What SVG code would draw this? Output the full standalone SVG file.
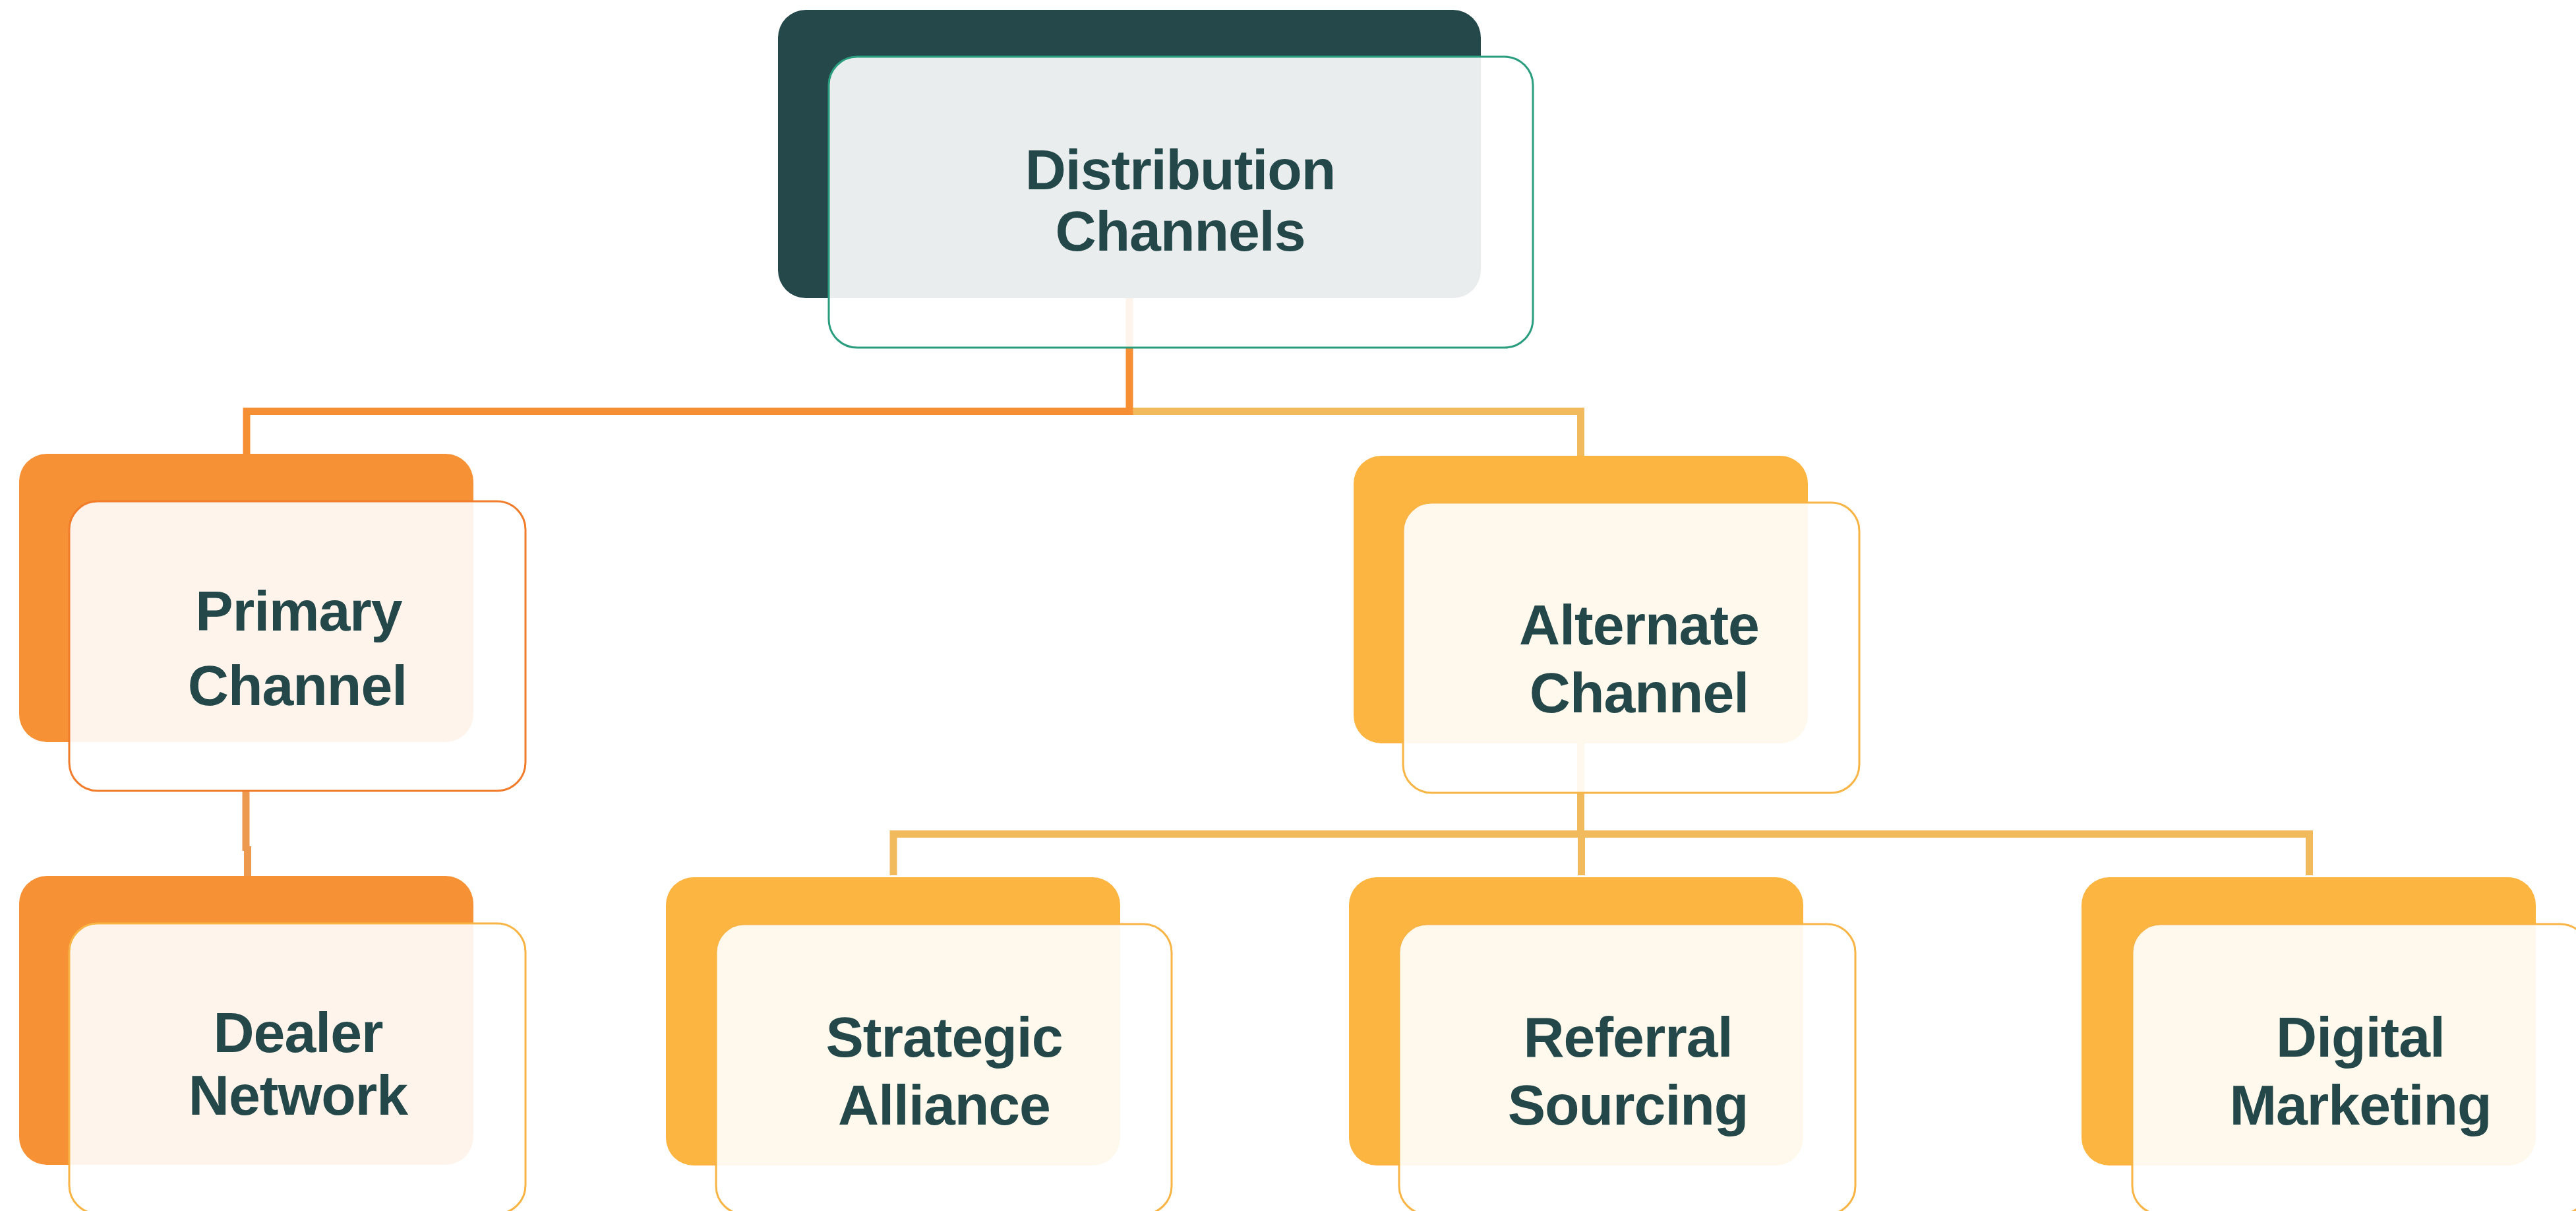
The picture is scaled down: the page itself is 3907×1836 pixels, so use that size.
<svg xmlns="http://www.w3.org/2000/svg" width="3907" height="1836" viewBox="0 0 3907 1836">
<style>
.bg{fill:#ffffff}
.back{stroke:none}
.dark{fill:#25484a}
.orange{fill:#f69135}
.yellow{fill:#fbb540}
.front{fill:#ffffff;fill-opacity:0.9;stroke-width:3}
.sg{stroke:#2a9d7f}
.so{stroke:#f07c2c}
.sy{stroke:#f8b445}
.lbl{font-family:"Liberation Sans",Arial,sans-serif;font-weight:bold;font-size:86px;fill:#24484a;text-anchor:middle;letter-spacing:-1px}
.con{fill:none;stroke-width:11;stroke-linejoin:miter;stroke-linecap:butt}
</style>
<rect class="bg" x="0" y="0" width="3907" height="1836"/>
<g id="connectors">
<path class="con" stroke="#f1ba5c" d="M1713,623.5 H2397.5 V691"/>
<path class="con" stroke="#f68f34" d="M1713,452 V623.5 H374 V688"/>
<path class="con" stroke="#ee9a4e" d="M373,1200 V1290"/>
<path class="con" stroke="#ee9a4e" d="M375.5,1283 V1328"/>
<path class="con" stroke="#f1ba5c" d="M2397.5,1127 V1264.5"/>
<path class="con" stroke="#f1ba5c" d="M2398.5,1264.5 V1327"/>
<path class="con" stroke="#f1ba5c" d="M1355,1327 V1264.5 H3502.5 V1327"/>
</g>
<g id="node-distribution">
<rect class="back dark" x="1180" y="15" width="1066" height="437" rx="42" ry="42"/>
<rect class="front sg" x="1257" y="86" width="1068" height="441" rx="43" ry="43"/>
<text class="lbl" x="1790" y="287">Distribution</text>
<text class="lbl" x="1790" y="380">Channels</text>
</g>
<g id="node-primary">
<rect class="back orange" x="29" y="688" width="689" height="437" rx="42" ry="42"/>
<rect class="front so" x="105" y="760" width="692" height="439" rx="43" ry="43"/>
<text class="lbl" x="453" y="956">Primary</text>
<text class="lbl" x="451" y="1069">Channel</text>
</g>
<g id="node-alternate">
<rect class="back yellow" x="2053" y="691" width="689" height="436" rx="42" ry="42"/>
<rect class="front sy" x="2128" y="762" width="692" height="440" rx="43" ry="43"/>
<text class="lbl" x="2486" y="977">Alternate</text>
<text class="lbl" x="2486" y="1080">Channel</text>
</g>
<g id="node-dealer">
<rect class="back orange" x="29" y="1328" width="689" height="438" rx="42" ry="42"/>
<rect class="front sy" x="105" y="1400" width="692" height="440" rx="43" ry="43"/>
<text class="lbl" x="452" y="1595">Dealer</text>
<text class="lbl" x="452" y="1690">Network</text>
</g>
<g id="node-strategic">
<rect class="back yellow" x="1010" y="1330" width="689" height="437" rx="42" ry="42"/>
<rect class="front sy" x="1086" y="1401" width="691" height="440" rx="43" ry="43"/>
<text class="lbl" x="1432" y="1602">Strategic</text>
<text class="lbl" x="1432" y="1705">Alliance</text>
</g>
<g id="node-referral">
<rect class="back yellow" x="2046" y="1330" width="689" height="437" rx="42" ry="42"/>
<rect class="front sy" x="2122" y="1401" width="692" height="440" rx="43" ry="43"/>
<text class="lbl" x="2469" y="1602">Referral</text>
<text class="lbl" x="2469" y="1705">Sourcing</text>
</g>
<g id="node-digital">
<rect class="back yellow" x="3157" y="1330" width="689" height="437" rx="42" ry="42"/>
<rect class="front sy" x="3234" y="1401" width="692" height="440" rx="43" ry="43"/>
<text class="lbl" x="3580" y="1602">Digital</text>
<text class="lbl" x="3580" y="1705">Marketing</text>
</g>
</svg>
